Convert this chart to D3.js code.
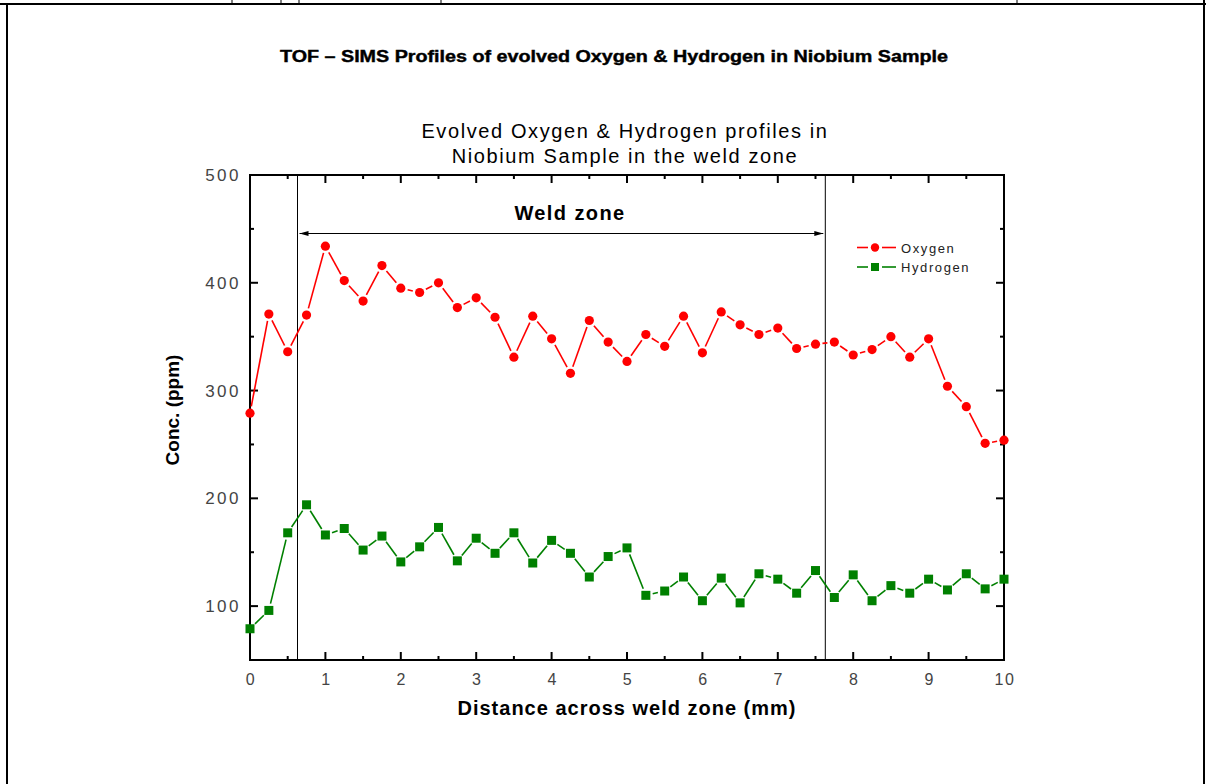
<!DOCTYPE html>
<html>
<head>
<meta charset="utf-8">
<script src="https://cdn.jsdelivr.net/npm/d3@7"></script>
<style>
  body { margin: 0; background: #fff; }
  svg { display: block; }
</style>
</head>
<body>
<svg id="chart" width="1206" height="784"></svg>
<script>
// Daten
var distance = [0, 0.25, 0.5, 0.75, 1, 1.25, 1.5, 1.75, 2, 2.25, 2.5, 2.75, 3, 3.25, 3.5, 3.75, 4, 4.25, 4.5, 4.75,
    5, 5.25, 5.5, 5.75, 6, 6.25, 6.5, 6.75, 7, 7.25, 7.5, 7.75, 8, 8.25, 8.5, 8.75, 9, 9.25, 9.5, 9.75, 10];
var oxygen = [279, 371, 336, 370, 434, 402, 383, 416, 395, 391, 400, 377, 386, 368, 331, 369, 348, 316, 365, 345,
    327, 352, 341, 369, 335, 373, 361, 352, 358, 339, 343, 345, 333, 338, 350, 331, 348, 304, 285, 251, 254];
var hydrogen = [79, 96, 168, 194, 166, 172, 152, 165, 141, 155, 173, 142, 163, 149, 168, 140, 161, 149, 127, 146,
    154, 110, 114, 127, 105, 126, 103, 130, 125, 112, 133, 108, 129, 105, 119, 112, 125, 115, 130, 116, 125];
var xTicks = [0, 1, 2, 3, 4, 5, 6, 7, 8, 9, 10];
var yTicks = [100, 200, 300, 400, 500];
var weldZone = [0.63, 7.63];
var seriesNames = ['Oxygen', 'Hydrogen'];
var seriesColors = ['#ff0000', '#008000'];

var svg = d3.select('#chart');

// Rahmen der Seite (Tabellenzelle)
svg.append('line').attr('x1', 0).attr('x2', 1206).attr('y1', 4).attr('y2', 4)
    .attr('stroke', '#000').attr('stroke-width', 2);
svg.append('line').attr('x1', 7).attr('x2', 7).attr('y1', 4).attr('y2', 784)
    .attr('stroke', '#000').attr('stroke-width', 2);
svg.append('line').attr('x1', 1204).attr('x2', 1204).attr('y1', 0).attr('y2', 784)
    .attr('stroke', '#000').attr('stroke-width', 2);
[232, 281, 299, 441, 1017].forEach(function (xx) {
    svg.append('line').attr('x1', xx).attr('x2', xx).attr('y1', 0).attr('y2', 4)
        .attr('stroke', '#000').attr('stroke-width', 1);
});

svg.append('text')
    .attr('x', 614).attr('y', 62)
    .attr('text-anchor', 'middle')
    .attr('textLength', 668)
    .attr('lengthAdjust', 'spacingAndGlyphs')
    .style('font-family', '"Liberation Sans Narrow", "Liberation Sans", Arial, sans-serif')
    .style('font-weight', 'bold')
    .style('font-size', '16px')
    .style('stroke', '#000').style('stroke-width', 0.4)
    .text('TOF – SIMS Profiles of evolved Oxygen & Hydrogen in Niobium Sample');

// "top" ist im globalen Scope schon window.top -> eigene Namen
var plotLeft = 250, plotRight = 1004, plotTop = 175, plotBottom = 660;

var x = d3.scaleLinear().domain([0, 10]).range([plotLeft, plotRight]);
var y = d3.scaleLinear().domain([50, 500]).range([plotBottom, plotTop]);

var font = 'Arial, "Liberation Sans", sans-serif';

// Titel
svg.append('text')
    .attr('x', 625).attr('y', 138)
    .attr('text-anchor', 'middle')
    .style('font-family', font).style('font-size', '20px')
    .style('letter-spacing', '1.6px')
    .text('Evolved Oxygen & Hydrogen profiles in');
svg.append('text')
    .attr('x', 625).attr('y', 163)
    .attr('text-anchor', 'middle')
    .style('font-family', font).style('font-size', '20px')
    .style('letter-spacing', '1.6px')
    .text('Niobium Sample in the weld zone');

// Achsen (Ticks nach innen, auf allen vier Seiten)
var g = svg.append('g');
var xMinor = d3.range(0.5, 10, 1);
var yMinor = d3.range(150, 500, 100);

function tickLines(vals, len, isX, atEdge) {
    vals.forEach(function (v) {
        if (isX) {
            g.append('line').attr('x1', x(v)).attr('x2', x(v))
                .attr('y1', atEdge).attr('y2', atEdge === plotBottom ? plotBottom - len : plotTop + len)
                .attr('stroke', '#000').attr('stroke-width', 2);
        } else {
            g.append('line').attr('y1', y(v)).attr('y2', y(v))
                .attr('x1', atEdge).attr('x2', atEdge === plotLeft ? plotLeft + len : plotRight - len)
                .attr('stroke', '#000').attr('stroke-width', 2);
        }
    });
}
tickLines(xTicks, 8, true, plotBottom);
tickLines(xTicks, 8, true, plotTop);
tickLines(xMinor, 4, true, plotBottom);
tickLines(xMinor, 4, true, plotTop);
tickLines(yTicks, 8, false, plotLeft);
tickLines(yTicks, 8, false, plotRight);
tickLines(yMinor, 4, false, plotLeft);
tickLines(yMinor, 4, false, plotRight);

g.append('rect')
    .attr('x', plotLeft).attr('y', plotTop)
    .attr('width', plotRight - plotLeft).attr('height', plotBottom - plotTop)
    .attr('fill', 'none').attr('stroke', '#000').attr('stroke-width', 2);

g.selectAll('.xl').data(xTicks).enter().append('text')
    .attr('x', function (d) { return x(d) + 1; })
    .attr('y', 685)
    .attr('text-anchor', 'middle')
    .style('font-family', font).style('font-size', '16px').style('fill', '#444')
    .style('letter-spacing', '1.5px')
    .text(function (d) { return d; });

g.selectAll('.yl').data(yTicks).enter().append('text')
    .attr('x', 241)
    .attr('y', function (d) { return y(d) + 6; })
    .attr('text-anchor', 'end')
    .style('font-family', font).style('font-size', '17px').style('fill', '#444')
    .style('letter-spacing', '2.5px')
    .text(function (d) { return d; });

svg.append('text')
    .attr('x', 627).attr('y', 715)
    .attr('text-anchor', 'middle')
    .style('font-family', font).style('font-size', '20px').style('font-weight', 'bold')
    .style('letter-spacing', '1px')
    .text('Distance across weld zone (mm)');

svg.append('text')
    .attr('transform', 'translate(179,410) rotate(-90)')
    .attr('text-anchor', 'middle')
    .style('font-family', font).style('font-size', '19px').style('font-weight', 'bold')
    .text('Conc. (ppm)');

// Schweisszone
weldZone.forEach(function (v) {
    svg.append('line').attr('x1', x(v)).attr('x2', x(v))
        .attr('y1', plotTop).attr('y2', plotBottom)
        .attr('stroke', '#000').attr('stroke-width', 1);
});
var arrowY = 233.5;
svg.append('line')
    .attr('x1', x(weldZone[0]) + 2).attr('x2', x(weldZone[1]) - 2)
    .attr('y1', arrowY).attr('y2', arrowY)
    .attr('stroke', '#000').attr('stroke-width', 1);
svg.append('path')
    .attr('d', 'M' + (x(weldZone[0]) + 2) + ',' + arrowY + 'l9,-2.5v5z')
    .attr('fill', '#000');
svg.append('path')
    .attr('d', 'M' + (x(weldZone[1]) - 2) + ',' + arrowY + 'l-9,-2.5v5z')
    .attr('fill', '#000');
svg.append('text')
    .attr('x', 570).attr('y', 220)
    .attr('text-anchor', 'middle')
    .style('font-family', font).style('font-size', '20px').style('font-weight', 'bold')
    .style('letter-spacing', '1.4px')
    .text('Weld zone');

// Linien mit Luecke um die Symbole (wie Origin)
function drawSeries(values, color, shape) {
    var pts = distance.map(function (d, i) { return [x(d), y(values[i])]; });
    var gap = 7;
    var sg = svg.append('g');
    for (var i = 0; i < pts.length - 1; i++) {
        var a = pts[i], b = pts[i + 1];
        var dx = b[0] - a[0], dy = b[1] - a[1];
        var len = Math.sqrt(dx * dx + dy * dy);
        if (len <= 2 * gap) continue;
        var ux = dx / len, uy = dy / len;
        sg.append('line')
            .attr('x1', a[0] + ux * gap).attr('y1', a[1] + uy * gap)
            .attr('x2', b[0] - ux * gap).attr('y2', b[1] - uy * gap)
            .attr('stroke', color).attr('stroke-width', 1.6);
    }
    pts.forEach(function (p) {
        if (shape === 'circle') {
            sg.append('circle').attr('cx', p[0]).attr('cy', p[1]).attr('r', 4.6).attr('fill', color);
        } else {
            sg.append('rect').attr('x', p[0] - 4.5).attr('y', p[1] - 4.5)
                .attr('width', 9).attr('height', 9).attr('fill', color);
        }
    });
}
drawSeries(oxygen, seriesColors[0], 'circle');
drawSeries(hydrogen, seriesColors[1], 'square');

// Legende
var legendY = [247.5, 267];
seriesNames.forEach(function (name, i) {
    var lg = svg.append('g');
    lg.append('line').attr('x1', 857).attr('x2', 868).attr('y1', legendY[i]).attr('y2', legendY[i])
        .attr('stroke', seriesColors[i]).attr('stroke-width', 1.6);
    lg.append('line').attr('x1', 882).attr('x2', 896).attr('y1', legendY[i]).attr('y2', legendY[i])
        .attr('stroke', seriesColors[i]).attr('stroke-width', 1.6);
    if (i === 0) {
        lg.append('circle').attr('cx', 875).attr('cy', legendY[i]).attr('r', 4.2).attr('fill', seriesColors[i]);
    } else {
        lg.append('rect').attr('x', 871).attr('y', legendY[i] - 4).attr('width', 8).attr('height', 8)
            .attr('fill', seriesColors[i]);
    }
    lg.append('text')
        .attr('x', 901).attr('y', legendY[i] + 5)
        .style('font-family', font).style('font-size', '13px')
        .style('letter-spacing', '1.6px').style('fill', '#222')
        .text(name);
});
</script>
</body>
</html>
